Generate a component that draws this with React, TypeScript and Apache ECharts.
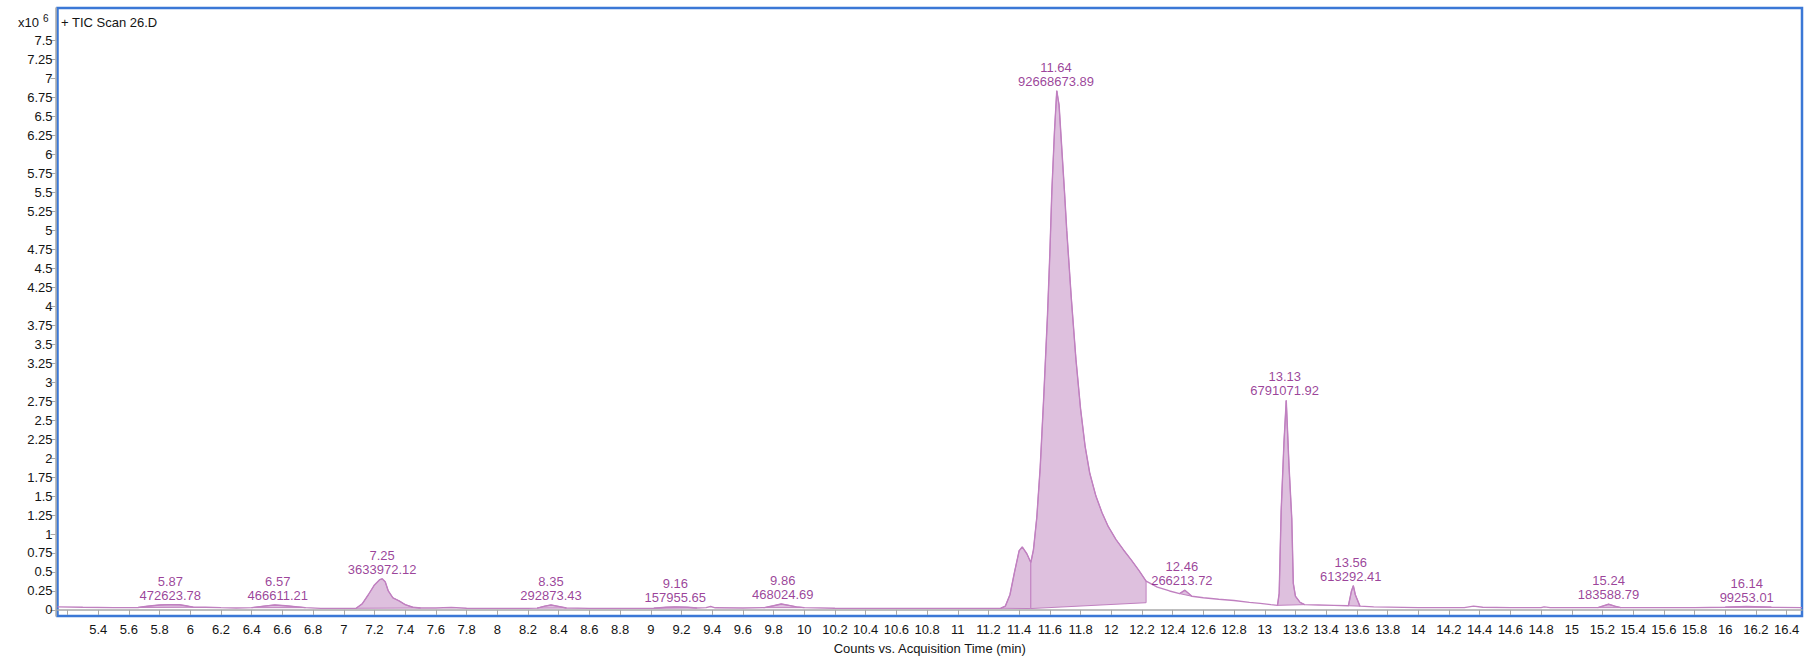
import React, { useEffect, useRef } from "react";
import * as echarts from "echarts";

// Chromatogram trace: acquisition time (min) and counts (x10^6)
const traceTime = [
  5.135, 5.3, 5.5, 5.62, 5.66, 5.72, 5.8, 5.87, 5.93, 5.97, 6.02, 6.1, 6.2, 6.3, 6.4, 6.48, 6.55, 6.62, 6.7, 6.75,
  6.85, 7.0, 7.08, 7.12, 7.16, 7.2, 7.235, 7.25, 7.27, 7.29, 7.32, 7.36, 7.4, 7.45, 7.5, 7.6, 7.7, 7.8, 8.0, 8.2,
  8.26, 8.31, 8.35, 8.39, 8.45, 8.6, 8.8, 9.02, 9.1, 9.16, 9.24, 9.3, 9.36, 9.39, 9.42, 9.6, 9.74, 9.8, 9.85, 9.9,
  9.95, 10.0, 10.2, 10.6, 11.0, 11.28, 11.31, 11.34, 11.37, 11.4, 11.42, 11.45, 11.476, 11.493, 11.515, 11.537,
  11.56, 11.585, 11.6, 11.613, 11.63, 11.645, 11.66, 11.677, 11.695, 11.71, 11.74, 11.77, 11.8, 11.83, 11.86,
  11.9, 11.94, 11.98, 12.03, 12.08, 12.13, 12.18, 12.227, 12.3, 12.38, 12.445, 12.48, 12.525, 12.6, 12.7, 12.8,
  12.9, 12.97, 13.04, 13.083, 13.094, 13.107, 13.125, 13.14, 13.158, 13.176, 13.186, 13.2, 13.23, 13.26, 13.35,
  13.45, 13.545, 13.565, 13.577, 13.59, 13.62, 13.71, 14.0, 14.3, 14.36, 14.42, 14.6, 14.8, 14.82, 14.86, 15.17,
  15.2, 15.24, 15.28, 15.32, 15.5, 15.8, 16.0, 16.14, 16.3, 16.5,
];
const traceCounts = [
  0.04, 0.035, 0.03, 0.03, 0.032, 0.048, 0.065, 0.07, 0.068, 0.055, 0.035, 0.035, 0.03, 0.026, 0.03, 0.05, 0.065, 0.055, 0.04, 0.03,
  0.02, 0.02, 0.022, 0.08, 0.2, 0.33, 0.4, 0.41, 0.37, 0.25, 0.16, 0.12, 0.07, 0.035, 0.025, 0.025, 0.032, 0.022, 0.02, 0.02,
  0.024, 0.05, 0.065, 0.05, 0.025, 0.02, 0.02, 0.022, 0.035, 0.04, 0.035, 0.025, 0.03, 0.045, 0.028, 0.025, 0.03, 0.055, 0.078, 0.06,
  0.04, 0.03, 0.022, 0.02, 0.02, 0.022, 0.05, 0.2, 0.5, 0.78, 0.83, 0.74, 0.625, 0.79, 1.22, 1.875,
  2.8, 3.9, 4.7, 5.52, 6.3, 6.84, 6.65, 6.1, 5.52, 5.0, 4.1, 3.3, 2.65, 2.15, 1.8,
  1.5, 1.28, 1.1, 0.93, 0.79, 0.66, 0.52, 0.38, 0.3, 0.25, 0.215, 0.26, 0.18, 0.16, 0.14, 0.125,
  0.1, 0.087, 0.07, 0.06, 0.22, 1.31, 2.2, 2.76, 1.9, 1.2, 0.35, 0.18, 0.1, 0.07, 0.065,
  0.06, 0.055, 0.25, 0.32, 0.2, 0.05, 0.04, 0.03, 0.03, 0.05, 0.035, 0.03, 0.03, 0.04, 0.03, 0.03,
  0.05, 0.075, 0.05, 0.03, 0.03, 0.03, 0.035, 0.045, 0.035, 0.03,
];

// Integrated regions (start / end time, baseline counts at each end)
const intStart = [5.66, 6.4, 7.08, 8.26, 9.02, 9.74, 11.28, 11.476, 12.445, 13.083, 13.545, 15.17, 16.0];
const intEnd = [6.02, 6.75, 7.5, 8.45, 9.3, 10.0, 11.476, 12.227, 12.525, 13.26, 13.62, 15.32, 16.3];
const intBaseStart = [0.032, 0.03, 0.022, 0.024, 0.022, 0.03, 0.022, 0.018, 0.215, 0.06, 0.055, 0.03, 0.035];
const intBaseEnd = [0.035, 0.03, 0.025, 0.025, 0.025, 0.03, 0.018, 0.095, 0.18, 0.07, 0.05, 0.03, 0.035];

// Peak annotations
const peakRT = ["5.87", "6.57", "7.25", "8.35", "9.16", "9.86", "11.64", "12.46", "13.13", "13.56", "15.24", "16.14"];
const peakArea = [
  "472623.78", "466611.21", "3633972.12", "292873.43", "157955.65", "468024.69",
  "92668673.89", "266213.72", "6791071.92", "613292.41", "183588.79", "99253.01",
];
const peakApex = [0.07, 0.065, 0.41, 0.065, 0.04, 0.078, 6.84, 0.26, 2.76, 0.32, 0.075, 0.045];

// Axis ticks
const xTicks = [
  5.2, 5.4, 5.6, 5.8, 6, 6.2, 6.4, 6.6, 6.8, 7, 7.2, 7.4, 7.6, 7.8, 8, 8.2, 8.4, 8.6, 8.8, 9, 9.2, 9.4, 9.6, 9.8,
  10, 10.2, 10.4, 10.6, 10.8, 11, 11.2, 11.4, 11.6, 11.8, 12, 12.2, 12.4, 12.6, 12.8, 13, 13.2, 13.4, 13.6, 13.8,
  14, 14.2, 14.4, 14.6, 14.8, 15, 15.2, 15.4, 15.6, 15.8, 16, 16.2, 16.4,
];
const xLabels = xTicks.slice(1);
const yTicks = [
  0, 0.25, 0.5, 0.75, 1, 1.25, 1.5, 1.75, 2, 2.25, 2.5, 2.75, 3, 3.25, 3.5, 3.75, 4, 4.25, 4.5, 4.75, 5, 5.25,
  5.5, 5.75, 6, 6.25, 6.5, 6.75, 7, 7.25, 7.5,
];

const FONT = "'Liberation Sans', Arial, Helvetica, sans-serif";
const FILL = "#dec0de";
const EDGE = "#c080c0";
const LABEL = "#82107f";
const TEXT = "#141414";
const AXIS = "#a8a8a8";
const FRAME = "#3b78d6";

export default function App() {
  const ref = useRef<HTMLDivElement>(null);

  useEffect(() => {
    document.body.style.margin = "0";
    document.body.style.overflow = "hidden";
    if (!ref.current) return;
    const chart = echarts.init(ref.current, null, { renderer: "svg" });

    const traceData = traceTime.map((t, i) => [t, traceCounts[i]]);

    chart.setOption({
      animation: false,
      backgroundColor: "#ffffff",
      grid: {
        left: 57.5,
        right: 8,
        top: 8,
        bottom: 40,
        show: true,
        borderColor: FRAME,
        borderWidth: 2.5,
        backgroundColor: "#ffffff",
        containLabel: false,
      },
      xAxis: {
        type: "value",
        min: 5.135,
        max: 16.5,
        offset: 2,
        name: "Counts vs. Acquisition Time (min)",
        nameLocation: "middle",
        nameGap: 24,
        nameTextStyle: { color: TEXT, fontSize: 13, fontFamily: FONT },
        axisLine: { show: true, lineStyle: { color: AXIS, width: 1.5 } },
        axisTick: { show: true, length: 5, customValues: xTicks, lineStyle: { color: AXIS, width: 1 } },
        axisLabel: { customValues: xLabels, color: TEXT, fontSize: 13, fontFamily: FONT, margin: 5 },
        splitLine: { show: false },
      },
      yAxis: {
        type: "value",
        min: -0.08,
        max: 7.93,
        offset: 2,
        axisLine: { show: true, lineStyle: { color: AXIS, width: 1.5 } },
        axisTick: { show: true, length: 5, customValues: yTicks, lineStyle: { color: AXIS, width: 1 } },
        axisLabel: { customValues: yTicks, color: TEXT, fontSize: 13, fontFamily: FONT, margin: 3 },
        splitLine: { show: false },
      },
      graphic: [
        { type: "text", left: 18, top: 16, style: { text: "x10", fontSize: 13, fontFamily: FONT, fill: TEXT } },
        { type: "text", left: 43, top: 13, style: { text: "6", fontSize: 10, fontFamily: FONT, fill: TEXT } },
        { type: "text", left: 61, top: 16, style: { text: "+ TIC Scan 26.D", fontSize: 13, fontFamily: FONT, fill: TEXT } },
      ],
      series: [
        {
          type: "custom",
          name: "integrated",
          clip: true,
          z: 2,
          data: intStart.map((s, i) => [s, intBaseStart[i]]),
          renderItem: (params: any, api: any) => {
            const i = params.dataIndex;
            const pts: number[][] = [api.coord([intStart[i], intBaseStart[i]])];
            for (let k = 0; k < traceTime.length; k++) {
              const t = traceTime[k];
              if (t >= intStart[i] - 1e-9 && t <= intEnd[i] + 1e-9) pts.push(api.coord([t, traceCounts[k]]));
            }
            pts.push(api.coord([intEnd[i], intBaseEnd[i]]));
            return {
              type: "polygon",
              shape: { points: pts },
              style: { fill: FILL, stroke: EDGE, lineWidth: 1 },
            };
          },
        },
        {
          type: "line",
          name: "TIC",
          data: traceData,
          showSymbol: false,
          symbol: "none",
          z: 3,
          lineStyle: { color: EDGE, width: 1.4 },
        },
        {
          type: "scatter",
          name: "peaks",
          z: 4,
          symbolSize: 1,
          itemStyle: { color: "rgba(0,0,0,0)" },
          data: peakRT.map((rt, i) => [parseFloat(rt), peakApex[i]]),
          label: {
            show: true,
            position: "top",
            distance: 2,
            color: LABEL,
            fontSize: 13,
            lineHeight: 14,
            fontFamily: FONT,
            align: "center",
            formatter: (p: any) => peakRT[p.dataIndex] + "\n" + peakArea[p.dataIndex],
          },
        },
      ],
    });

    return () => chart.dispose();
  }, []);

  return <div ref={ref} style={{ width: 1810, height: 660 }} />;
}
